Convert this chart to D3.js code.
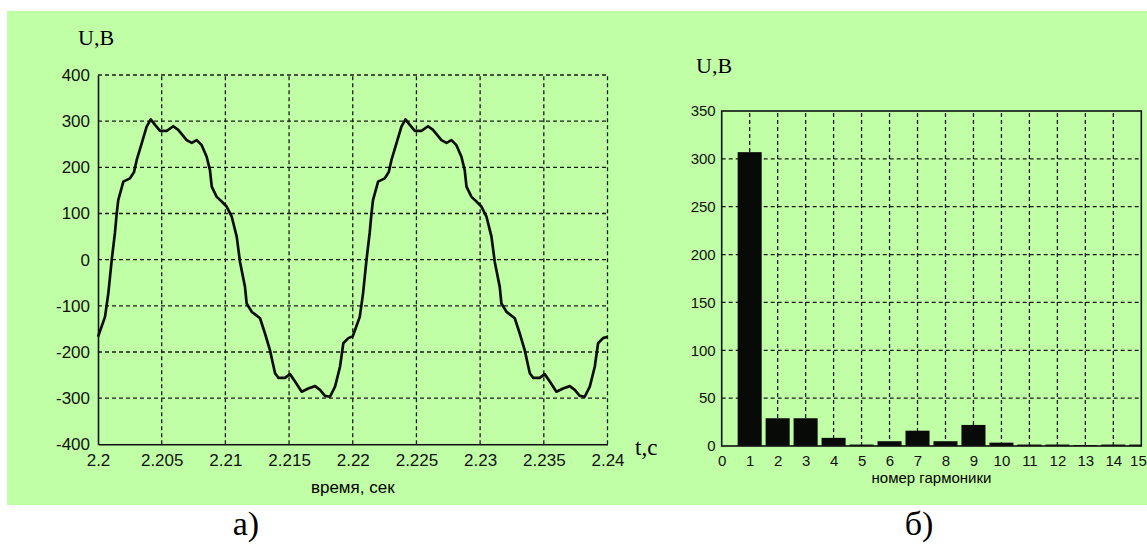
<!DOCTYPE html>
<html>
<head>
<meta charset="utf-8">
<script src="https://cdn.jsdelivr.net/npm/d3@7"></script>
<style>
  body { margin: 0; background: #fff; }
  svg { display: block; }
  .tick text { font-family: "Liberation Sans", Arial, sans-serif; fill: #111; }
  .domain { stroke: #111; stroke-width: 1.6; }
  .grid line { stroke: #1a1a1a; stroke-width: 1.3; stroke-dasharray: 4,3; }
</style>
</head>
<body>
<div id="chart"></div>
<script>
// waveform a), two periods
const waveTime = [
  2.20000, 2.20055, 2.20081, 2.20108, 2.20133, 2.20147, 2.20159, 2.20199, 2.20251, 2.20283,
  2.20304, 2.20343, 2.20382, 2.20414, 2.20448, 2.20487, 2.20539, 2.20591, 2.20630, 2.20696,
  2.20736, 2.20775, 2.20814, 2.20853, 2.20879, 2.20893, 2.20932, 2.20971, 2.21010, 2.21050,
  2.21089, 2.21115, 2.21154, 2.21167, 2.21207, 2.21272, 2.21311, 2.21350, 2.21390, 2.21416,
  2.21468, 2.21507, 2.21547, 2.21599, 2.21651, 2.21704, 2.21743, 2.21782, 2.21821, 2.21861,
  2.21900, 2.21926, 2.21965,
  2.22000, 2.22055, 2.22081, 2.22108, 2.22133, 2.22147, 2.22159, 2.22199, 2.22251, 2.22283,
  2.22304, 2.22343, 2.22382, 2.22414, 2.22448, 2.22487, 2.22539, 2.22591, 2.22630, 2.22696,
  2.22736, 2.22775, 2.22814, 2.22853, 2.22879, 2.22893, 2.22932, 2.22971, 2.23010, 2.23050,
  2.23089, 2.23115, 2.23154, 2.23167, 2.23207, 2.23272, 2.23311, 2.23350, 2.23390, 2.23416,
  2.23468, 2.23507, 2.23547, 2.23599, 2.23651, 2.23704, 2.23743, 2.23782, 2.23821, 2.23861,
  2.23900, 2.23926, 2.23965, 2.24000
]
const waveVolt = [
  -167, -124, -73, 0, 58, 100, 129, 169, 176, 190,
  216, 252, 288, 304, 292, 279, 279, 289, 281, 259,
  253, 259, 248, 223, 194, 158, 136, 126, 115, 93,
  50, -5, -59, -95, -113, -127, -160, -196, -246, -256,
  -256, -248, -264, -286, -279, -274, -282, -295, -297, -275,
  -232, -181, -170,
  -166, -124, -73, 0, 58, 100, 129, 169, 176, 190,
  216, 252, 288, 304, 292, 279, 279, 289, 281, 259,
  253, 259, 248, 223, 194, 158, 136, 126, 115, 93,
  50, -5, -59, -95, -113, -127, -160, -196, -246, -256,
  -256, -248, -264, -286, -279, -274, -282, -295, -297, -275,
  -232, -181, -170, -167
]
const waveXTicks = [2.2, 2.205, 2.21, 2.215, 2.22, 2.225, 2.23, 2.235, 2.24]
const waveYTicks = [-400, -300, -200, -100, 0, 100, 200, 300, 400]

// spectrum b)
const harmonics = [1, 2, 3, 4, 5, 6, 7, 8, 9, 10, 11, 12, 13, 14, 15]
const amplitudes = [307, 29, 29, 8.5, 1.5, 5, 16, 5, 22, 3.5, 1.5, 1.5, 1, 1.5, 1.5]
const specXTicks = [0, 1, 2, 3, 4, 5, 6, 7, 8, 9, 10, 11, 12, 13, 14, 15]
const specYTicks = [0, 50, 100, 150, 200, 250, 300, 350]

const svg = d3.select('#chart').append('svg')
    .attr('width', 1147)
    .attr('height', 544)

svg.append('rect')
    .attr('x', 7).attr('y', 11)
    .attr('width', 1140).attr('height', 494)
    .attr('fill', '#c1ffa7')

// ---------- a) waveform ----------
const xW = d3.scaleLinear().domain([2.2, 2.24]).range([98, 607.5])
const yW = d3.scaleLinear().domain([-400, 400]).range([444.3, 75])

const gridA = svg.append('g').attr('class', 'grid')
gridA.selectAll('.h').data(waveYTicks.filter(d => d > -400)).enter().append('line')
    .attr('x1', xW(2.2)).attr('x2', xW(2.24))
    .attr('y1', d => yW(d)).attr('y2', d => yW(d))
gridA.selectAll('.v').data(waveXTicks.filter(d => d > 2.2)).enter().append('line')
    .attr('x1', d => xW(d)).attr('x2', d => xW(d))
    .attr('y1', yW(-400)).attr('y2', yW(400))

svg.append('path')
    .datum(waveTime.map((t, i) => [t, waveVolt[i]]))
    .attr('fill', 'none')
    .attr('stroke', '#0d0d0d')
    .attr('stroke-width', 2.7)
    .attr('stroke-linejoin', 'round')
    .attr('d', d3.line().x(d => xW(d[0])).y(d => yW(d[1])))

const xAxisW = d3.axisBottom(xW).tickValues(waveXTicks).tickSize(0).tickPadding(10)
    .tickFormat(d => String(d))
const yAxisW = d3.axisLeft(yW).tickValues(waveYTicks).tickSize(0).tickPadding(8)
    .tickFormat(d => String(d))

svg.append('g')
    .attr('transform', `translate(0,${yW(-400)})`)
    .call(xAxisW)
    .call(g => g.selectAll('text').style('font-size', '17px'))
svg.append('g')
    .attr('transform', `translate(${xW(2.2)},0)`)
    .call(yAxisW)
    .call(g => g.selectAll('text').style('font-size', '17px'))

svg.append('text')
    .attr('x', 78).attr('y', 45)
    .style('font-family', '"Liberation Serif", "Times New Roman", serif')
    .style('font-size', '22px')
    .text('U,B')
svg.append('text')
    .attr('x', 635).attr('y', 454.5)
    .style('font-family', '"Liberation Serif", "Times New Roman", serif')
    .style('font-size', '23px')
    .text('t,c')
svg.append('text')
    .attr('x', (xW(2.2) + xW(2.24)) / 2).attr('y', 492.5)
    .attr('text-anchor', 'middle')
    .style('font-family', '"Liberation Sans", Arial, sans-serif')
    .style('font-size', '17px')
    .text('время, сек')

// ---------- b) spectrum ----------
const xS = d3.scaleLinear().domain([0, 15]).range([721.7, 1141.3])
const yS = d3.scaleLinear().domain([0, 350]).range([446, 111])
const unit = xS(1) - xS(0)

svg.append('defs').append('clipPath').attr('id', 'clipS')
    .append('rect')
    .attr('x', xS(0)).attr('y', yS(350))
    .attr('width', xS(15) - xS(0)).attr('height', yS(0) - yS(350))

const gridB = svg.append('g').attr('class', 'grid')
gridB.selectAll('.h').data(specYTicks.filter(d => d > 0 && d < 350)).enter().append('line')
    .attr('x1', xS(0)).attr('x2', xS(15))
    .attr('y1', d => yS(d)).attr('y2', d => yS(d))
gridB.selectAll('.v').data(specXTicks.filter(d => d > 0 && d < 15)).enter().append('line')
    .attr('x1', d => xS(d)).attr('x2', d => xS(d))
    .attr('y1', yS(0)).attr('y2', yS(350))

svg.append('g')
    .attr('clip-path', 'url(#clipS)')
    .selectAll('rect')
    .data(harmonics)
    .enter()
    .append('rect')
    .attr('x', d => xS(d) - unit * 0.43)
    .attr('y', (d, i) => yS(amplitudes[i]))
    .attr('width', unit * 0.86)
    .attr('height', (d, i) => yS(0) - yS(amplitudes[i]))
    .attr('fill', '#080a08')

svg.append('rect')
    .attr('x', xS(0)).attr('y', yS(350))
    .attr('width', xS(15) - xS(0)).attr('height', yS(0) - yS(350))
    .attr('fill', 'none')
    .attr('stroke', '#111')
    .attr('stroke-width', 1.6)

const xAxisS = d3.axisBottom(xS).tickValues(specXTicks).tickSize(0).tickPadding(9)
    .tickFormat(d => String(d))
const yAxisS = d3.axisLeft(yS).tickValues(specYTicks).tickSize(0).tickPadding(6)
    .tickFormat(d => String(d))

svg.append('g')
    .attr('transform', `translate(0,${yS(0)})`)
    .call(xAxisS)
    .call(g => g.select('.domain').remove())
    .call(g => g.selectAll('text').style('font-size', '15px'))
    // last label would run past the page edge, keep it inside
    .call(g => g.selectAll('.tick').filter(d => d === 15).select('text')
        .attr('text-anchor', 'end').attr('x', 5))

svg.append('g')
    .attr('transform', `translate(${xS(0)},0)`)
    .call(yAxisS)
    .call(g => g.select('.domain').remove())
    .call(g => g.selectAll('text').style('font-size', '15px'))

svg.append('text')
    .attr('x', 696).attr('y', 72.5)
    .style('font-family', '"Liberation Serif", "Times New Roman", serif')
    .style('font-size', '22px')
    .text('U,B')
svg.append('text')
    .attr('x', (xS(0) + xS(15)) / 2).attr('y', 483)
    .attr('text-anchor', 'middle')
    .style('font-family', '"Liberation Sans", Arial, sans-serif')
    .style('font-size', '15px')
    .text('номер гармоники')

// captions
svg.append('text')
    .attr('x', 246).attr('y', 535)
    .attr('text-anchor', 'middle')
    .style('font-family', '"Liberation Serif", "Times New Roman", serif')
    .style('font-size', '34px')
    .text('а)')
svg.append('text')
    .attr('x', 919).attr('y', 535)
    .attr('text-anchor', 'middle')
    .style('font-family', '"Liberation Serif", "Times New Roman", serif')
    .style('font-size', '34px')
    .text('б)')
</script>
</body>
</html>
